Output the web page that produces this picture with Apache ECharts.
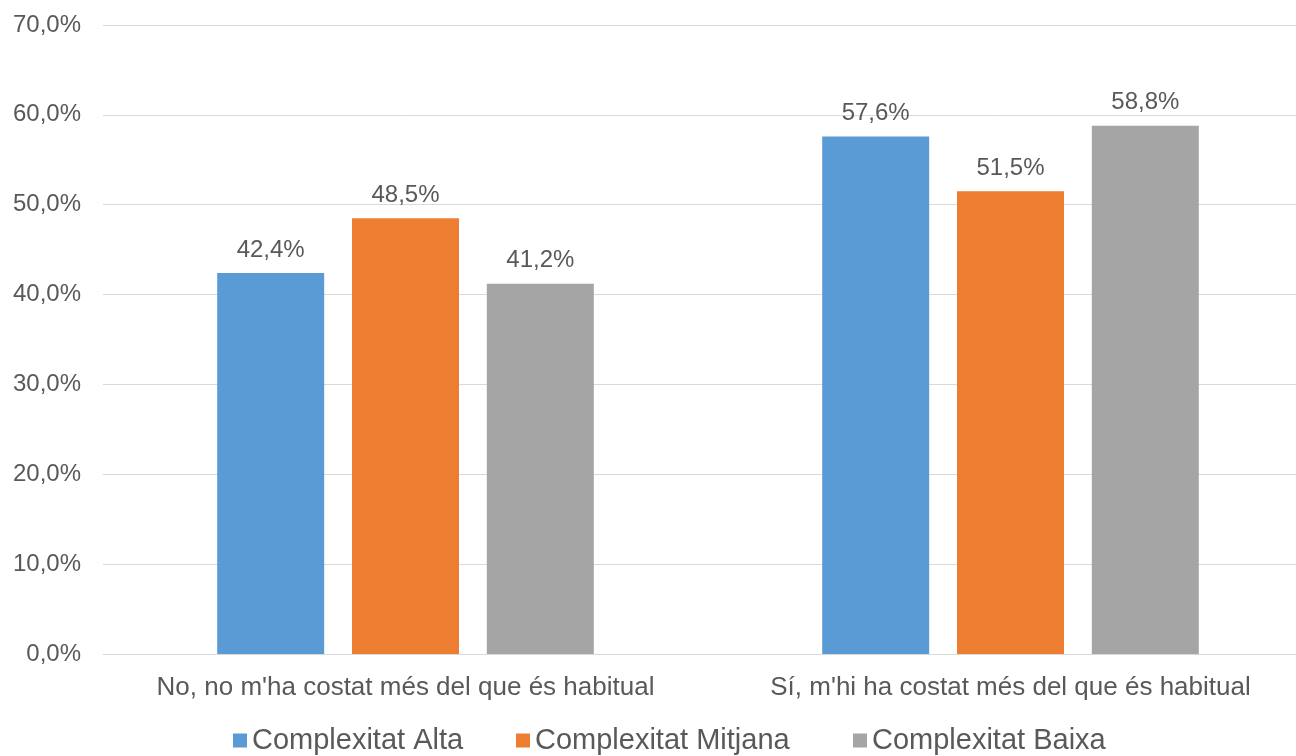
<!DOCTYPE html>
<html>
<head>
<meta charset="utf-8">
<script src="https://cdn.jsdelivr.net/npm/echarts@6/dist/echarts.min.js"></script>
<style>
  html, body { margin: 0; padding: 0; background: #fff; }
  #chart { width: 1296px; height: 756px; }
</style>
</head>
<body>
<div id="chart"></div>
<script>
  // dades
  var categories = ["No, no m'ha costat més del que és habitual", "Sí, m'hi ha costat més del que és habitual"];
  var alta = [42.4, 57.6];
  var mitjana = [48.5, 51.5];
  var baixa = [41.2, 58.8];
  var seriesNames = ['Complexitat Alta', 'Complexitat Mitjana', 'Complexitat Baixa'];
  var colors = ['#5b9bd5', '#ed7d31', '#a5a5a5'];

  function pct(v) {
    return v.toFixed(1).replace('.', ',') + '%';
  }

  var chart = echarts.init(document.getElementById('chart'));
  var font = 'Liberation Sans, Arial, sans-serif';
  var textColor = '#595959';

  function bar(name, data, color) {
    return {
      name: name,
      type: 'bar',
      barWidth: 107,
      barGap: '26%',
      itemStyle: { color: color },
      label: {
        show: true,
        position: 'top',
        distance: 11,
        color: textColor,
        fontSize: 24,
        fontFamily: font,
        formatter: function (p) { return pct(p.value); }
      },
      data: data
    };
  }

  // una llegenda per element, com a l'original (espais desiguals)
  var legendLeft = [233, 516, 853];
  function legend(i) {
    return {
      top: 726,
      left: legendLeft[i],
      padding: 0,
      itemWidth: 14,
      itemHeight: 14,
      icon: 'rect',
      textStyle: { color: textColor, fontSize: 29, fontFamily: font },
      data: [seriesNames[i]]
    };
  }

  chart.setOption({
    backgroundColor: '#fff',
    animation: false,
    color: colors,
    grid: { left: 103, top: 25, width: 1210, height: 629, outerBoundsMode: 'none', containLabel: false },
    legend: [legend(0), legend(1), legend(2)],
    xAxis: {
      type: 'category',
      data: categories,
      axisLine: { lineStyle: { color: '#d9d9d9', width: 1 } },
      axisTick: { show: false },
      axisLabel: { color: textColor, fontSize: 26, fontFamily: font, margin: 21, interval: 0 }
    },
    yAxis: {
      type: 'value',
      min: 0,
      max: 70,
      interval: 10,
      axisLine: { show: false },
      axisTick: { show: false },
      splitLine: { lineStyle: { color: '#d9d9d9', width: 1 } },
      axisLabel: {
        color: textColor,
        fontSize: 24,
        fontFamily: font,
        margin: 22,
        formatter: function (v) { return pct(v); }
      }
    },
    series: [
      bar(seriesNames[0], alta, colors[0]),
      bar(seriesNames[1], mitjana, colors[1]),
      bar(seriesNames[2], baixa, colors[2])
    ]
  });
</script>
</body>
</html>
